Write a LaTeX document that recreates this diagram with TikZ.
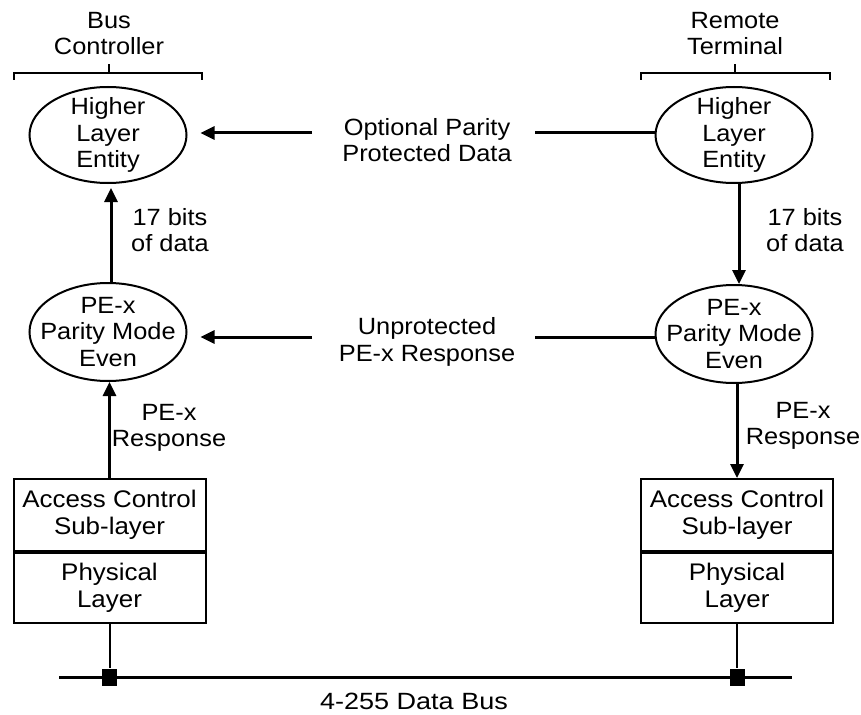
\documentclass[tikz,border=0pt]{standalone}
\usepackage{fontspec}
\setmainfont{Liberation Sans}[FakeStretch=1.08]
\newfontfamily\busfont{Liberation Sans}[FakeStretch=1.15]
\usetikzlibrary{shapes.geometric,arrows.meta}
\begin{document}
\begin{tikzpicture}[x=1pt,y=-1pt,
  every node/.style={font=\fontsize{23.5}{26.5}\selectfont, align=center, inner sep=0pt},
  ellbox/.style={draw, ellipse, line width=2pt, minimum width=157pt, minimum height=96pt},
  laybox/.style={draw, rectangle, line width=2pt, minimum width=192pt, font=\fontsize{24}{27}\selectfont},
  conn/.style={line width=3pt},
  arr/.style={line width=3pt, -{Triangle[length=14pt,width=13pt]}},
  brk/.style={line width=1.6pt},
  tap/.style={fill=black, minimum width=15pt, minimum height=17pt}
]
\useasboundingbox (0,0) rectangle (861,714);

% titles and brackets
\node (t1) at (109,33.5) {Bus\\Controller};
\node (t2) at (735,33.5) {Remote\\Terminal};
\draw[brk] (14,80) -- (14,73) -- (202,73) -- (202,80);
\draw[brk] (109,73) -- (109,64);
\draw[brk] (641,80) -- (641,73) -- (830,73) -- (830,80);
\draw[brk] (735,73) -- (735,64);

% ellipses
\node[ellbox, label={[align=center]center:Higher\\Layer\\Entity}] (hle1) at (108,135) {};
\node[ellbox, label={[align=center]center:Higher\\Layer\\Entity}] (hle2) at (734,135) {};
\node[ellbox, minimum height=98pt, label={[align=center]center:PE-x\\Parity Mode\\Even}] (pe1) at (108,332) {};
\node[ellbox, minimum height=98pt, label={[align=center]center:PE-x\\Parity Mode\\Even}] (pe2) at (734,334) {};

% layer boxes
\node[laybox, minimum height=72pt] (acs1) at (109.5,515) {Access Control\\Sub-layer};
\node[laybox, minimum height=70pt, anchor=north] (phy1) at (acs1.south) {Physical\\Layer};
\node[laybox, minimum height=72pt] (acs2) at (737,515) {Access Control\\Sub-layer};
\node[laybox, minimum height=70pt, anchor=north] (phy2) at (acs2.south) {Physical\\Layer};

% middle horizontal connectors
\node (m1) at (427,140) {Optional Parity\\Protected Data};
\node (m2) at (427,342) {Unprotected\\PE-x Response};
\coordinate (m1l) at (312,133);
\coordinate (m1r) at (535,133);
\coordinate (m2l) at (312,337);
\coordinate (m2r) at (535,337);
\draw[conn] (hle2.west |- m1r) -- (m1r);
\draw[arr] (m1l) -- ([xshift=13pt]hle1.east |- m1l);
\draw[conn] (pe2.west |- m2r) -- (m2r);
\draw[arr] (m2l) -- ([xshift=13pt]pe1.east |- m2l);

% vertical connectors
\draw[arr] ([xshift=3pt]pe1.north) -- ([xshift=3pt,yshift=-4pt]hle1.south);
\draw[arr] (acs1.north) -- (acs1.north |- pe1.south);
\draw[arr] ([xshift=5pt]hle2.south) -- ([xshift=5pt]hle2.south |- pe2.north);
\draw[arr] (pe2.south -| acs2.north) -- (acs2.north);
\node at (170,230) {17 bits\\of data};
\node at (805,230) {17 bits\\of data};
\node at (169,428) {PE-x\\Response};
\node at (803,426) {PE-x\\Response};

% bus
\coordinate (busL) at (59,677);
\coordinate (busR) at (792,677);
\draw[conn] (busL) -- (busR);
\node[tap] (tp1) at (phy1.south |- busL) {};
\node[tap] (tp2) at (phy2.south |- busL) {};
\draw[line width=2pt] (phy1.south) -- (tp1);
\draw[line width=2pt] (phy2.south) -- (tp2);
\node[font=\busfont\fontsize{23.5}{26.5}\selectfont] (bus) at (414,701) {4-255 Data Bus};
\end{tikzpicture}
\end{document}
